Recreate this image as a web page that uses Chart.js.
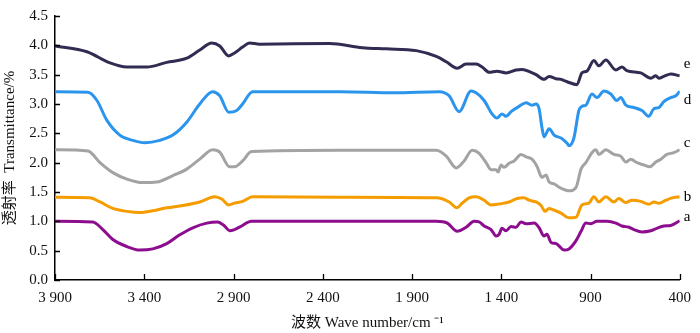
<!DOCTYPE html>
<html>
<head>
<meta charset="utf-8">
<script src="https://cdn.jsdelivr.net/npm/chart.js@4/dist/chart.umd.min.js"></script>
<style>
  html, body { margin: 0; padding: 0; background: #fff; }
  #wrap { width: 700px; height: 333px; }
</style>
</head>
<body>
<div id="wrap"><canvas id="irChart" width="700" height="333"></canvas></div>
<script>
'use strict';

// --- spectra: wavenumber (cm-1) and transmittance ---
const eWave = [3900, 3721, 3592, 3497, 3386, 3274, 3162, 3089, 3022, 2977, 2927, 2894, 2849, 2810, 2754, 2362, 2178, 2044, 1876, 1764, 1708, 1647, 1597, 1541, 1507, 1468, 1424, 1373, 1317, 1283, 1233, 1205, 1160, 1132, 1093, 1065, 1048, 1031, 976, 948, 920, 881, 853, 814, 758, 724, 697, 618, 562, 534, 517, 489, 450, 400];
const eT    = [3.99, 3.89, 3.70, 3.63, 3.63, 3.71, 3.78, 3.92, 4.04, 3.99, 3.82, 3.87, 3.97, 4.04, 4.02, 4.03, 3.96, 3.94, 3.91, 3.81, 3.72, 3.61, 3.68, 3.68, 3.63, 3.54, 3.56, 3.53, 3.58, 3.59, 3.54, 3.50, 3.42, 3.47, 3.43, 3.42, 3.40, 3.38, 3.33, 3.53, 3.56, 3.74, 3.65, 3.75, 3.58, 3.63, 3.57, 3.53, 3.44, 3.48, 3.44, 3.47, 3.51, 3.48];

const dWave = [3900, 3715, 3665, 3609, 3537, 3464, 3397, 3313, 3240, 3162, 3089, 3017, 2977, 2927, 2882, 2849, 2793, 2300, 2000, 1747, 1692, 1636, 1569, 1541, 1496, 1451, 1424, 1396, 1373, 1345, 1300, 1261, 1228, 1205, 1188, 1172, 1160, 1132, 1104, 1065, 1031, 1020, 993, 965, 948, 926, 892, 864, 825, 786, 753, 730, 702, 657, 612, 573, 545, 517, 489, 450, 422, 400];
const dT    = [3.21, 3.20, 3.06, 2.72, 2.47, 2.38, 2.34, 2.38, 2.47, 2.69, 3.00, 3.21, 3.14, 2.86, 2.89, 3.00, 3.21, 3.21, 3.19, 3.21, 3.14, 2.87, 3.22, 3.19, 3.06, 2.83, 2.76, 2.83, 2.79, 2.87, 2.96, 3.02, 2.98, 3.00, 2.92, 2.60, 2.44, 2.58, 2.47, 2.42, 2.33, 2.29, 2.42, 2.89, 2.96, 2.98, 3.17, 3.11, 3.22, 3.17, 3.06, 3.11, 2.98, 2.94, 2.89, 2.79, 2.92, 2.94, 3.04, 3.11, 3.14, 3.22];

const cWave = [3900, 3715, 3648, 3576, 3497, 3408, 3330, 3240, 3162, 3089, 3017, 2977, 2922, 2894, 2849, 2799, 2300, 1764, 1708, 1652, 1608, 1563, 1524, 1485, 1457, 1429, 1418, 1401, 1384, 1356, 1328, 1289, 1261, 1228, 1200, 1172, 1149, 1132, 1104, 1076, 1037, 1020, 981, 953, 926, 892, 870, 853, 814, 769, 730, 702, 674, 640, 601, 568, 534, 506, 472, 433, 400];
const cT    = [2.22, 2.20, 2.00, 1.83, 1.72, 1.66, 1.67, 1.78, 1.89, 2.06, 2.22, 2.18, 1.93, 1.93, 2.03, 2.19, 2.21, 2.21, 2.11, 1.91, 2.03, 2.21, 2.16, 2.00, 1.88, 1.88, 1.84, 1.96, 1.92, 1.99, 2.03, 2.14, 2.10, 2.06, 1.94, 1.75, 1.79, 1.67, 1.64, 1.58, 1.53, 1.52, 1.58, 1.89, 2.00, 2.17, 2.22, 2.14, 2.22, 2.14, 2.11, 2.01, 2.06, 2.00, 1.96, 1.93, 2.01, 2.06, 2.14, 2.17, 2.22];

const bWave = [3900, 3704, 3648, 3576, 3497, 3425, 3352, 3274, 3184, 3089, 3005, 2966, 2927, 2894, 2849, 2793, 2300, 1764, 1692, 1647, 1619, 1580, 1541, 1496, 1457, 1424, 1384, 1356, 1311, 1272, 1244, 1205, 1177, 1155, 1132, 1104, 1065, 1031, 1020, 981, 948, 909, 881, 853, 814, 769, 741, 702, 668, 618, 573, 545, 517, 478, 444, 400];
const bT    = [1.41, 1.40, 1.33, 1.22, 1.17, 1.15, 1.18, 1.23, 1.27, 1.33, 1.42, 1.38, 1.28, 1.31, 1.34, 1.42, 1.41, 1.40, 1.33, 1.23, 1.31, 1.40, 1.42, 1.36, 1.28, 1.29, 1.31, 1.33, 1.39, 1.40, 1.36, 1.33, 1.27, 1.17, 1.22, 1.19, 1.14, 1.07, 1.06, 1.07, 1.28, 1.31, 1.42, 1.33, 1.42, 1.33, 1.39, 1.32, 1.36, 1.34, 1.29, 1.33, 1.31, 1.36, 1.40, 1.42];

const aWave = [3900, 3688, 3632, 3576, 3497, 3425, 3352, 3274, 3201, 3128, 3050, 2989, 2950, 2922, 2894, 2866, 2799, 2300, 1764, 1702, 1647, 1597, 1552, 1524, 1496, 1457, 1429, 1412, 1396, 1373, 1345, 1317, 1289, 1261, 1216, 1188, 1160, 1144, 1121, 1093, 1076, 1048, 1020, 981, 953, 926, 898, 864, 808, 758, 724, 685, 657, 612, 562, 529, 489, 450, 400];
const aT    = [1.00, 0.99, 0.86, 0.69, 0.57, 0.51, 0.53, 0.62, 0.77, 0.89, 0.97, 0.99, 0.92, 0.84, 0.86, 0.90, 1.00, 1.00, 1.00, 0.97, 0.83, 0.90, 1.00, 0.99, 0.92, 0.86, 0.75, 0.78, 0.88, 0.84, 0.91, 0.90, 0.99, 0.96, 0.97, 0.89, 0.75, 0.78, 0.64, 0.62, 0.58, 0.51, 0.53, 0.67, 0.83, 0.97, 0.96, 1.00, 1.00, 0.97, 0.92, 0.90, 0.86, 0.82, 0.84, 0.88, 0.92, 0.93, 1.01];

const seriesNames = ['a', 'b', 'c', 'd', 'e'];
const labelAt = [1.08, 1.42, 2.33, 3.07, 3.68];   // where each letter sits (transmittance)
const xTicks = [3900, 3400, 2900, 2400, 1900, 1400, 900, 400];

const FONT = '"Liberation Serif", "Times New Roman", serif';
const CJK = '"Liberation Serif", "Noto Sans CJK SC", serif';

const pairs = (w, t) => w.map((x, i) => ({ x, y: t[i] }));
const mkSet = (name, w, t, color) => ({
  label: name,
  data: pairs(w, t),
  borderColor: color,
  borderWidth: 3,
  pointRadius: 0,
  fill: false,
  cubicInterpolationMode: 'monotone',
});

// inward tick marks + series letters at the right end
const extras = {
  id: 'extras',
  afterDraw(chart) {
    const { ctx, scales: { x, y } } = chart;
    ctx.save();
    ctx.strokeStyle = '#000';
    ctx.lineWidth = 1.3;
    ctx.beginPath();
    xTicks.forEach(v => {
      const px = Math.round(x.getPixelForValue(v)) + 0.5;
      ctx.moveTo(px, y.bottom);
      ctx.lineTo(px, y.bottom - 6);
    });
    y.ticks.forEach(t => {
      const py = Math.round(y.getPixelForValue(t.value)) + 0.5;
      ctx.moveTo(x.left, py);
      ctx.lineTo(x.left + 5, py);
    });
    ctx.stroke();

    ctx.fillStyle = '#000';
    ctx.font = '15px ' + FONT;
    ctx.textAlign = 'left';
    ctx.textBaseline = 'middle';
    seriesNames.forEach((n, i) => {
      ctx.fillText(n, x.getPixelForValue(400) + 4, y.getPixelForValue(labelAt[i]));
    });
    ctx.restore();
  },
};

new Chart(document.getElementById('irChart').getContext('2d'), {
  type: 'line',
  data: {
    datasets: [
      mkSet('a', aWave, aT, '#8c0e8f'),
      mkSet('b', bWave, bT, '#f59c00'),
      mkSet('c', cWave, cT, '#a3a3a3'),
      mkSet('d', dWave, dT, '#2b95ee'),
      mkSet('e', eWave, eT, '#302c52'),
    ],
  },
  options: {
    responsive: false,
    animation: false,
    layout: { padding: { top: 10, right: 18, bottom: 0, left: 0 } },
    plugins: { legend: { display: false }, tooltip: { enabled: false } },
    scales: {
      x: {
        type: 'linear',
        reverse: true,
        min: 400,
        max: 3900,
        afterBuildTicks: s => { s.ticks = xTicks.map(v => ({ value: v })); },
        afterFit: s => { s.height = 53; },
        grid: { display: true, drawOnChartArea: false, drawTicks: false },
        border: { color: '#000', width: 1.5 },
        ticks: {
          color: '#111',
          padding: 9,
          maxRotation: 0,
          font: { family: FONT, size: 15 },
          callback: v => v >= 1000 ? Math.floor(v / 1000) + ' ' + String(v % 1000).padStart(3, '0') : String(v),
        },
        title: {
          display: true,
          text: '波数 Wave number/cm ⁻¹',
          color: '#111',
          padding: { top: 0, bottom: 1 },
          font: { family: CJK, size: 15 },
        },
      },
      y: {
        min: 0,
        max: 4.5,
        afterFit: s => { s.width = 55; },
        grid: { display: true, drawOnChartArea: false, drawTicks: false },
        border: { color: '#000', width: 1.5 },
        ticks: {
          stepSize: 0.5,
          color: '#111',
          padding: 7,
          font: { family: FONT, size: 15 },
          callback: v => v.toFixed(1),
        },
        title: {
          display: true,
          text: '透射率  Transmittance/%',
          color: '#111',
          padding: { top: 1, bottom: 0 },
          font: { family: CJK, size: 15 },
        },
      },
    },
  },
  plugins: [extras],
});
</script>
</body>
</html>
